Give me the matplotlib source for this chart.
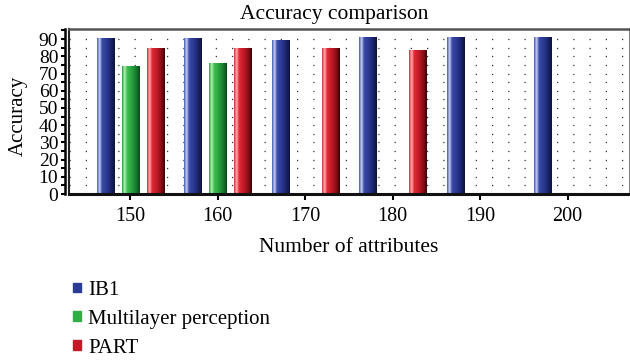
import numpy as np
import matplotlib
matplotlib.use("Agg")
import matplotlib.pyplot as plt
from matplotlib.colors import LinearSegmentedColormap
from matplotlib.patches import Rectangle
from matplotlib.ticker import MultipleLocator

plt.rcParams['font.family'] = ['Liberation Serif', 'DejaVu Serif']

attributes = [150, 160, 170, 180, 190, 200]
series_names = ["IB1", "Multilayer perception", "PART"]
ib1 = [90.6, 90.6, 89.4, 91.4, 91.4, 91.4]
mlp = [74.3, 76.1, np.nan, np.nan, np.nan, np.nan]
part = [84.8, 84.8, 84.8, 83.6, np.nan, np.nan]
yticks = [0, 10, 20, 30, 40, 50, 60, 70, 80, 90]

base_colors = ["#2b3a92", "#2fae45", "#c41a28"]
grad_stops = [
    ["#4a5ab0", "#c8d0f0", "#3a4aa8", "#2a3890", "#1a2468", "#0c1238"],
    ["#28a040", "#b8f0b8", "#40c050", "#2aa040", "#157a2c", "#0a4a18"],
    ["#d82838", "#ffb0b0", "#e02a36", "#c01a26", "#8a0e16", "#3a0406"],
]
offsets = [-2.85, 0.0, 2.85]
width = 1.95

fig = plt.figure(figsize=(6.3, 3.64), dpi=100)
ax = fig.add_axes([0.1095, 0.467, 0.89, 0.453])
ax.set_xlim(143.0, 207.1)
ax.set_ylim(0, 95.8)

# dotted grid rows
for yv in np.arange(5, 95, 5):
    ax.axhline(yv, color="#333333", lw=0.9, linestyle=(0, (1, 12)), zorder=0.5)

x = np.array(attributes, dtype=float)
for i, vals in enumerate([ib1, mlp, part]):
    vals = np.array(vals, dtype=float)
    bars = ax.bar(x + offsets[i], np.nan_to_num(vals), width=width,
                  color=base_colors[i], zorder=2, linewidth=0)
    cmap = LinearSegmentedColormap.from_list(
        "g%d" % i, list(zip([0, 0.14, 0.28, 0.55, 0.8, 1.0], grad_stops[i])))
    grad = np.linspace(0, 1, 64).reshape(1, -1)
    for b, v in zip(bars, vals):
        if np.isnan(v):
            b.set_visible(False)
            continue
        im = ax.imshow(grad, cmap=cmap, aspect="auto", zorder=2.5,
                       extent=[b.get_x(), b.get_x() + b.get_width(), 0, v],
                       interpolation="bilinear")
        im.set_clip_path(b)

ax.set_xlim(143.0, 207.1)
ax.set_ylim(0, 95.8)

# frame
for s in ["top", "right"]:
    ax.spines[s].set_color("#555555")
    ax.spines[s].set_linewidth(1.8)
ax.spines["left"].set_color("#222222")
ax.spines["left"].set_linewidth(1.5)
ax.spines["bottom"].set_color("#111111")
ax.spines["bottom"].set_linewidth(2.2)

# offset left axis line with ticks
ax2_left = fig.add_axes([0.1095 - 0.006, 0.467, 0.001, 0.453])
ax2_left.set_ylim(0, 95.8)
ax2_left.set_xticks([])
for s in ["top", "right", "bottom"]:
    ax2_left.spines[s].set_visible(False)
ax2_left.spines["left"].set_linewidth(1.8)
ax2_left.patch.set_visible(False)
ax2_left.set_yticks(yticks)
ax2_left.yaxis.set_minor_locator(MultipleLocator(5))
ax2_left.tick_params(axis="y", which="major", length=3, width=1.5, labelsize=14, pad=2)
ax2_left.tick_params(axis="y", which="minor", length=3, width=1.5)
ax2_left.set_yticklabels([str(t) for t in yticks])

ax.set_yticks([])
ax.set_xticks(attributes)
ax.set_xticklabels([str(a) for a in attributes], fontsize=14.5)
ax.tick_params(axis="x", length=4, width=1.5, pad=5)

fig.text(0.0286, 0.681, "Accuracy", rotation=90, ha="center", va="center", fontsize=15)
fig.text(0.530, 0.9615, "Accuracy comparison", ha="center", va="center", fontsize=15.5)
fig.text(0.554, 0.319, "Number of attributes", ha="center", va="center", fontsize=15.5)

handles = [Rectangle((0, 0), 1, 1, color=c) for c in base_colors]
fig.legend(handles, series_names, loc="upper left", bbox_to_anchor=(0.1159, 0.228),
           frameon=False, fontsize=15, handlelength=0.385, handleheight=0.34,
           handletextpad=0.34, labelspacing=0.47, borderpad=0, borderaxespad=0)

fig.savefig("out.png", dpi=100)
